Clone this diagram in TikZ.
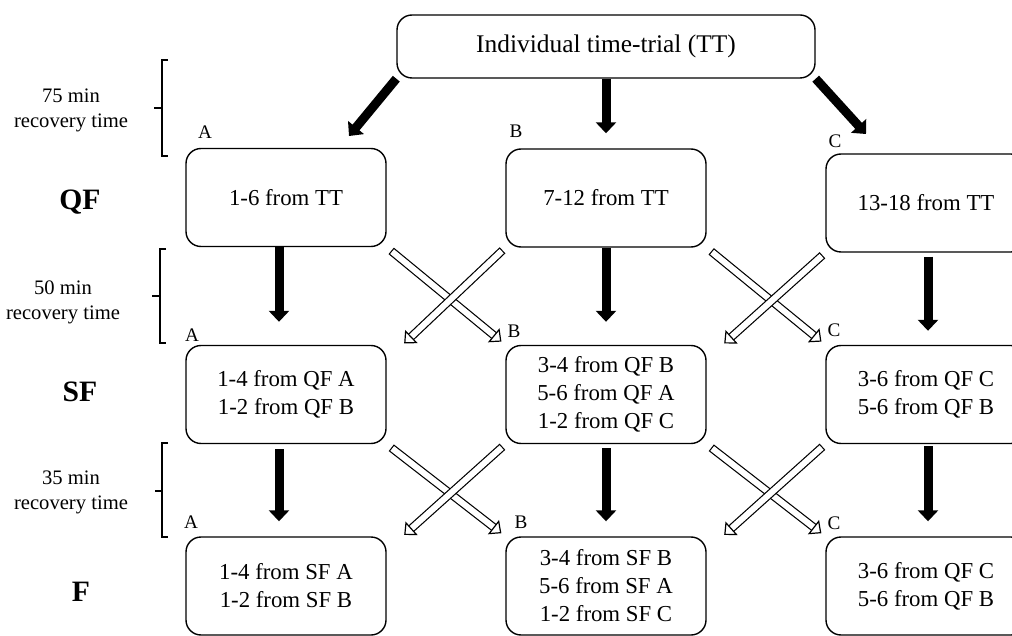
\documentclass[tikz,border=0pt]{standalone}
\usepackage{fontspec}
\setmainfont{Liberation Serif}
\usetikzlibrary{arrows.meta}
\tikzset{
  box/.style={draw, rounded corners=7.5pt, line width=0.7pt, minimum width=100pt, minimum height=49pt, align=center, font=\fontsize{11.4}{14}\selectfont},
  stage/.style={font=\fontsize{14.8}{17}\selectfont\bfseries},
  rec/.style={align=center, font=\fontsize{10.3}{12.5}\selectfont},
  tag/.style={anchor=base, inner sep=0pt, font=\fontsize{9.6}{11}\selectfont},
  bigarrow/.style={line width=4.5pt, -{Triangle[length=5.5pt,width=10pt]}},
  openarrow/.style={double, double distance=3pt, line width=0.6pt, line cap=rect, -{Triangle[length=5pt,width=9pt,fill=white,line width=0.6pt]}},
  bracket/.style={line width=0.8pt},
}
\begin{document}
\begin{tikzpicture}[x=0.5pt, y=-0.5pt]
        \clip (0,0) rectangle (1012,636);
        % boxes
        \node[box, minimum width=209pt, minimum height=31.5pt, font=\fontsize{12.7}{14}\selectfont] (tt) at (606,46.5) {Individual time-trial (TT)};
        \node[box] (qfA) at (286,197.5) {1-6 from TT};
        \node[box] (qfB) at (606,198) {7-12 from TT};
        \node[box] (qfC) at (926,203) {13-18 from TT};
        \node[box] (sfA) at (286,394.5) {1-4 from QF A\\1-2 from QF B};
        \node[box] (sfB) at (606,394.5) {3-4 from QF B\\5-6 from QF A\\1-2 from QF C};
        \node[box] (sfC) at (926,394.5) {3-6 from QF C\\5-6 from QF B};
        \node[box] (fA) at (286,586) {1-4 from SF A\\1-2 from SF B};
        \node[box] (fB) at (606,586) {3-4 from SF B\\5-6 from SF A\\1-2 from SF C};
        \node[box] (fC) at (926,586) {3-6 from QF C\\5-6 from QF B};
        % group letters
        \node[tag] (qfAtag) at (205,139) {A};
        \node[tag] (qfBtag) at (516,138) {B};
        \node[tag] (qfCtag) at (835,148) {C};
        \node[tag] (sfAtag) at (192,342) {A};
        \node[tag] (sfBtag) at (514,337) {B};
        \node[tag] (sfCtag) at (834,336) {C};
        \node[tag] (fAtag) at (191,528) {A};
        \node[tag] (fBtag) at (521,528) {B};
        \node[tag] (fCtag) at (834,529) {C};
        % rounds and recovery times
        \node[stage] (qf) at (80,202) {QF};
        \node[stage] (sf) at (80,392) {SF};
        \node[stage] (fin) at (81,592) {F};
        \node[rec] (rec1) at (71,110) {75 min\\recovery time};
        \node[rec] (rec2) at (63,302) {50 min\\recovery time};
        \node[rec] (rec3) at (71,492) {35 min\\recovery time};
        \draw[bracket] (168,60) -- (162,60) -- (162,156) -- (168,156) (162,108) -- (154,108);
        \draw[bracket] (166,249) -- (160,249) -- (160,343) -- (166,343) (160,296) -- (152,296);
        \draw[bracket] (168,443) -- (162,443) -- (162,537) -- (168,537) (162,491) -- (155,491);
        % TT to QF
        \coordinate (qfAin) at (349,136);
        \coordinate (qfCin) at (866,134);
        \draw[bigarrow] (tt.south west) -- (qfAin);
        \draw[bigarrow, shorten >=7.5pt] (tt.south) -- (qfB.north);
        \draw[bigarrow] (tt.south east) -- (qfCin);
        % QF to SF
        \draw[bigarrow, shorten >=11.5pt] ([xshift=-3.5pt]qfA.south) -- ([xshift=-3.5pt]sfA.north);
        \draw[bigarrow, shorten >=11.5pt] (qfB.south) -- (sfB.north);
        \draw[bigarrow, shorten <=2pt, shorten >=7pt] ([xshift=1pt]qfC.south) -- ([xshift=1pt]sfC.north);
        \draw[openarrow, shorten <=5pt, shorten >=2.5pt] (qfA.south east) -- (sfB.north west);
        \draw[openarrow, shorten <=4pt, shorten >=1pt] (qfB.south west) -- ([xshift=8pt]sfA.north east);
        \draw[openarrow, shorten <=5pt, shorten >=2.5pt] (qfB.south east) -- (sfC.north west);
        \draw[openarrow, shorten <=4pt, shorten >=1pt] (qfC.south west) -- ([xshift=8pt]sfB.north east);
        % SF to F
        \draw[bigarrow, shorten <=2.5pt, shorten >=7.5pt] ([xshift=-3.5pt]sfA.south) -- ([xshift=-3.5pt]fA.north);
        \draw[bigarrow, shorten <=2pt, shorten >=7.5pt] (sfB.south) -- (fB.north);
        \draw[bigarrow, shorten <=1pt, shorten >=7.5pt] ([xshift=1pt]sfC.south) -- ([xshift=1pt]fC.north);
        \draw[openarrow, shorten <=5pt, shorten >=2.5pt] (sfA.south east) -- (fB.north west);
        \draw[openarrow, shorten <=4pt, shorten >=1pt] (sfB.south west) -- ([xshift=8pt]fA.north east);
        \draw[openarrow, shorten <=5pt, shorten >=2.5pt] (sfB.south east) -- (fC.north west);
        \draw[openarrow, shorten <=4pt, shorten >=1pt] (sfC.south west) -- ([xshift=8pt]fB.north east);
\end{tikzpicture}
\end{document}
